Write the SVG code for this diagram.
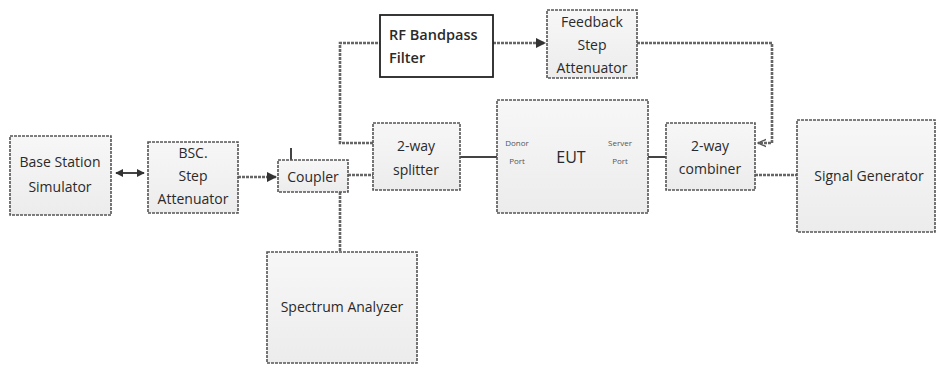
<svg xmlns="http://www.w3.org/2000/svg" width="938" height="365" viewBox="0 0 938 365">
<defs>
<linearGradient id="g" x1="0" y1="0" x2="0" y2="1"><stop offset="0" stop-color="#f7f7f7"/><stop offset="1" stop-color="#ececec"/></linearGradient>
<marker id="ah" viewBox="0 0 10 10" refX="9" refY="5" markerWidth="4" markerHeight="4" orient="auto-start-reverse"><path d="M0,0 L10,5 L0,10 z" fill="#333"/></marker>
<marker id="ao" viewBox="0 0 10 10" refX="9" refY="5" markerWidth="3.5" markerHeight="3.5" orient="auto"><path d="M0,1 L9,5 L0,9" fill="none" stroke="#555" stroke-width="1.5"/></marker>
<style>
.b{fill:url(#g);stroke:#555;stroke-width:1.6;stroke-dasharray:3,1}
.c{fill:none;stroke:#666;stroke-width:2.6;stroke-dasharray:3,1}
.s{fill:none;stroke:#444;stroke-width:2}
text{font-family:"Open Sans","Liberation Sans",sans-serif;font-size:14px;fill:#2a2a2a;text-anchor:middle}
.sm{font-size:8px;fill:#555}
.rf{text-anchor:start;font-weight:600;font-size:14.5px}
</style>
</defs>
<rect width="938" height="365" fill="#fff"/>
<g id="connectors">
<line class="s" x1="116" y1="173" x2="144" y2="173" marker-start="url(#ah)" marker-end="url(#ah)"/>
<line class="c" x1="238" y1="177" x2="276" y2="177" marker-end="url(#ah)"/>
<line class="s" x1="291" y1="148" x2="291" y2="160" stroke-width="1.5"/>
<line class="c" x1="348" y1="175" x2="373" y2="175"/>
<line class="c" x1="340" y1="192" x2="340" y2="252"/>
<polyline class="c" points="373,143 340,143 340,43 380,43"/>
<line class="c" x1="493" y1="43" x2="545" y2="43" marker-end="url(#ah)"/>
<polyline class="c" points="637,43 772,43 772,143 758,143" marker-end="url(#ao)"/>
<line class="s" x1="460" y1="157" x2="497" y2="157"/>
<line class="s" x1="648" y1="157" x2="666" y2="157"/>
<line class="c" x1="755" y1="175" x2="797" y2="175"/>
</g>
<g id="bss"><rect class="b" x="10" y="136" width="101" height="79"/><text x="60" y="167">Base Station</text><text x="60" y="192">Simulator</text></g>
<g id="bsc"><rect class="b" x="148" y="142" width="90" height="71"/><text x="193" y="158">BSC.</text><text x="193" y="181">Step</text><text x="193" y="204">Attenuator</text></g>
<g id="coupler"><rect class="b" x="278" y="160" width="70" height="32"/><text x="313" y="182">Coupler</text></g>
<g id="rf"><rect x="380" y="15" width="113" height="62" fill="#fff" stroke="#222" stroke-width="1.8"/><text class="rf" x="389" y="40">RF Bandpass</text><text class="rf" x="389" y="63">Filter</text></g>
<g id="feedback"><rect class="b" x="547" y="10" width="90" height="68"/><text x="592" y="27">Feedback</text><text x="592" y="50">Step</text><text x="592" y="73">Attenuator</text></g>
<g id="splitter"><rect class="b" x="373" y="123" width="87" height="67"/><text x="416" y="151">2-way</text><text x="416" y="175">splitter</text></g>
<g id="eut"><rect class="b" x="497" y="100" width="151" height="113"/><text class="sm" x="517" y="146">Donor</text><text class="sm" x="517" y="164">Port</text><text x="571" y="163" style="font-size:16px">EUT</text><text class="sm" x="620" y="146">Server</text><text class="sm" x="620" y="164">Port</text></g>
<g id="combiner"><rect class="b" x="666" y="123" width="89" height="67"/><text x="710" y="151">2-way</text><text x="710" y="174">combiner</text></g>
<g id="siggen"><rect class="b" x="797" y="120" width="138" height="112"/><text x="869" y="181">Signal Generator</text></g>
<g id="spectrum"><rect class="b" x="267" y="252" width="150" height="111"/><text x="342" y="312">Spectrum Analyzer</text></g>
</svg>
